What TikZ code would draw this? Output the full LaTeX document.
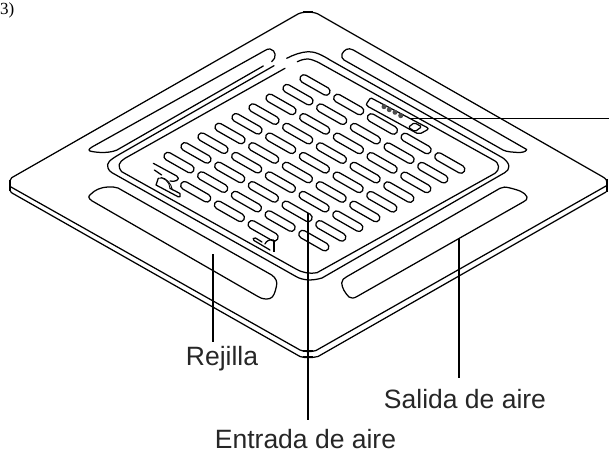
\documentclass[tikz,border=0pt]{standalone}
\usepackage{fontspec}
\setmainfont{Liberation Sans}
\newfontfamily\tagfont{Liberation Serif}
\usetikzlibrary{shapes.misc}
\tikzset{
panel/.style={line width=1.25pt,line join=round,line cap=round},
grille/.style={panel,draw,shape=rounded rectangle,inner sep=0pt,minimum width=33.5pt,minimum height=8pt,rotate=-29.7},
led/.style={shape=circle,fill=black!70,inner sep=0pt,minimum size=5pt},
leader/.style={line width=1.9pt},
callout/.style={anchor=base,inner sep=0pt,text=black!85,font=\fontsize{26.5}{30}\selectfont}
}
\begin{document}
\begin{tikzpicture}[x=1pt,y=-1pt]
\useasboundingbox (0,0) rectangle (609,454);
\node[anchor=base west,inner sep=0pt,font=\tagfont\fontsize{17}{19}\selectfont] (tag) at (0,15) {3)};
\draw[panel] (10,184) .. controls (10,181) and (10,179) .. (11.7,177.7) -- (298,14) .. controls (303,11.5) and (313,11.5) .. (318,14) -- (603,177) .. controls (606,179) and (607,180) .. (607,183);
\draw[panel] (11,187) -- (300,350) .. controls (304,352) and (312,352) .. (316,350.5) -- (606,186);
\draw[panel] (10,190) .. controls (10.5,191.5) and (11,192.5) .. (12,193) -- (300,356.5) .. controls (304,358) and (312,358) .. (318,356.5) -- (606,192);
\draw[leader] (10,180) -- (10,191);
\draw[leader] (607,179) -- (607,192);
\foreach \y in {12.3,351.4,357.4}
  \draw[leader] (303,\y) -- (313,\y);
\draw[panel] (274,65.7) -- (118.3,155) .. controls (110,160) and (106,163) .. (108,168) .. controls (108.5,170) and (110,171.5) .. (112,172.7) -- (296,276.5) .. controls (303,280.5) and (312,281) .. (322,278) -- (505,172.5) .. controls (510,169.5) and (511,164) .. (503,158) -- (330,60) .. controls (322,55) and (315,51.5) .. (308.3,51.7) .. controls (301,52) and (293,55) .. (286.7,58.3);
\draw[panel] (285,68.3) -- (125,158.3) .. controls (119,162) and (117,166) .. (121.7,171.7) -- (296,269) .. controls (303,273) and (310,274) .. (317,272.7) -- (495,173.3) .. controls (500,170) and (500,163) .. (493.3,160) -- (320,63.3) .. controls (315,60.5) and (310,59) .. (308,59) .. controls (304,59) and (301,60) .. (297.3,61.7);
\draw[panel] (271.7,61.7) .. controls (277,58) and (276,50) .. (270,49) .. controls (268,48.7) and (267,49.5) .. (265,50.5) -- (92,147) .. controls (88,149.5) and (88,151) .. (92,151.5) .. controls (100,153) and (110,153) .. (117,150) -- (263.3,66);
\draw[panel] (118,188) -- (271.7,275) .. controls (276,278) and (277.5,282) .. (276.5,286) .. controls (275,292) and (274,297) .. (270,298.5) .. controls (266,299.5) and (262,299) .. (258.3,296.7) -- (91.7,200.7) .. controls (88,198) and (88,196) .. (91,194) .. controls (95,190) and (100,187.5) .. (108,187) .. controls (112,186.8) and (115,187) .. (118,188);
\draw[panel] (346.7,276.7) -- (500,188.3) .. controls (503,186.5) and (506,187) .. (510,188) .. controls (518,190) and (525,192) .. (527,197) .. controls (527.5,199) and (526,200.5) .. (524,201.5) -- (357,296.5) .. controls (354,298.3) and (351,298.8) .. (349,297) .. controls (345,293) and (342,288) .. (341.7,283) .. controls (341.5,280) and (344,278.2) .. (346.7,276.7);
\draw[panel] (526.7,149.5) -- (353.3,50) .. controls (348,47) and (344,50) .. (342,54) .. controls (341,56.5) and (342,58.5) .. (344,60) -- (503,150) .. controls (507,152) and (512,152) .. (518,152.5) .. controls (522,152.5) and (526,152) .. (526.7,149.5);
\foreach \i/\last in {0/8,1/9,2/9,3/9,4/8}
  \foreach \j in {0,...,\last}
    \node[grille] (slot-\i-\j) at ({315+33.7*\i-17*\j},{85+19.5*\i+9.7*\j}) {};
\draw[panel] (153.3,163.3) -- (176.7,176) .. controls (179,177.5) and (179,179.5) .. (176.7,180.5) .. controls (175,181.5) and (172,181.5) .. (170,181);
\draw[panel] (154.3,170) -- (161.7,175);
\draw[panel] (158.3,178.3) -- (156,185) -- (178,196.7) -- (180,196.7) -- (180,193.5) -- (170,188.3);
\draw[panel,line width=0.9pt] (158.3,178.3) .. controls (163,176) and (170,182) .. (170,188.3);
\draw[panel,line width=0.9pt] (161,177.5) .. controls (166,178) and (171,183) .. (172.5,190);
\draw[panel] (262,242) -- (255.5,238) .. controls (253,237) and (252.5,239.5) .. (254,240.5) -- (270,250);
\draw[panel] (265,244) .. controls (266,241) and (270,239) .. (273.5,240);
\draw[leader] (274,240) -- (274,252);
\draw[panel] (371.7,98.3) -- (426.7,127.3) .. controls (428.5,128.3) and (428.5,129) .. (427,130) -- (421,133.3) .. controls (419.5,134) and (418.5,134) .. (417,133.3) -- (368.3,106.7) .. controls (366,105.3) and (366,104) .. (367,103) -- (369,100) .. controls (370,98.5) and (370.5,98) .. (371.7,98.3);
\node[led] (led-1) at (384,106.7) {};
\node[led] (led-2) at (389.3,109.7) {};
\node[led] (led-3) at (395,112.3) {};
\node[led] (led-4) at (400.7,115.7) {};
\draw[panel,rounded corners=1.5pt] (408.3,127.3) -- (414.3,122.7) -- (421.7,126.7) -- (415,131.7) -- cycle;
\node[callout] (rejilla) at (222,365) {Rejilla};
\node[callout] (salida) at (465,408.3) {Salida de aire};
\node[callout] (entrada) at (305.5,448.2) {Entrada de aire};
\coordinate (display-tip) at (410,118.5);
\coordinate (display-end) at (609,118.5);
\coordinate (rejilla-tip) at (213,254);
\coordinate (rejilla-end) at (213,342);
\coordinate (entrada-tip) at (308,213);
\coordinate (entrada-end) at (308,420);
\coordinate (salida-tip) at (459.2,238.5);
\coordinate (salida-end) at (459.2,378);
\draw[leader] (display-tip) -- (display-end);
\draw[leader] (rejilla-tip) -- (rejilla-end);
\draw[leader] (entrada-tip) -- (entrada-end);
\draw[leader] (salida-tip) -- (salida-end);
\end{tikzpicture}
\end{document}
